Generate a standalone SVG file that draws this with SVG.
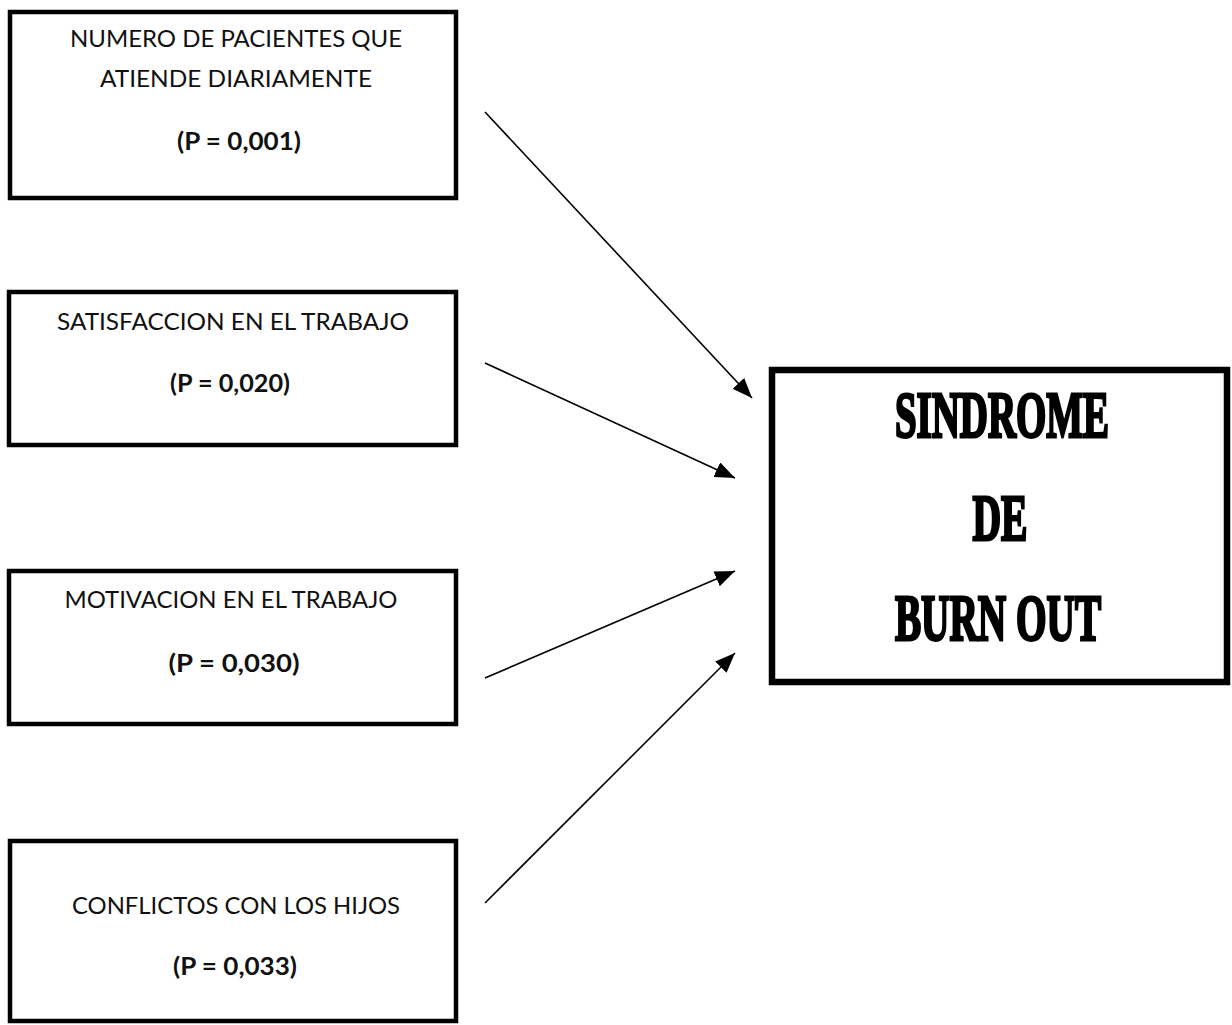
<svg xmlns="http://www.w3.org/2000/svg" width="1232" height="1025" viewBox="0 0 1232 1025">
  <style>
    .box { fill: #fff; stroke: #000; stroke-width: 4.5; }
    .main { fill: #fff; stroke: #000; stroke-width: 6.5; }
    .lbl { font-family: Lato, "Open Sans", "Liberation Sans", sans-serif; font-size: 24px; fill: #111; text-anchor: middle; }
    .p { font-weight: bold; }
    .big { font-family: "Liberation Serif", "DejaVu Serif", serif; font-weight: bold; font-size: 66px; fill: #000; stroke: #000; stroke-width: 3; text-anchor: middle; }
    .edge { stroke: #000; stroke-width: 1.6; fill: none; marker-end: url(#arrow); }
  </style>
  <defs>
    <marker id="arrow" viewBox="0 0 10 10" refX="10" refY="5" markerWidth="20" markerHeight="16" markerUnits="userSpaceOnUse" orient="auto" preserveAspectRatio="none">
      <path d="M0,0 L10,5 L0,10 z" fill="#000"/>
    </marker>
  </defs>

  <g id="pacientes">
    <rect class="box" x="10" y="12" width="446" height="186"/>
    <text class="lbl" x="236" y="47" textLength="332" lengthAdjust="spacingAndGlyphs">NUMERO DE PACIENTES QUE</text>
    <text class="lbl" x="236" y="87" textLength="272" lengthAdjust="spacingAndGlyphs">ATIENDE DIARIAMENTE</text>
    <text class="lbl p" x="239" y="150" textLength="124" lengthAdjust="spacingAndGlyphs">(P = 0,001)</text>
  </g>

  <g id="satisfaccion">
    <rect class="box" x="9" y="292" width="447" height="153"/>
    <text class="lbl" x="233" y="330" textLength="352" lengthAdjust="spacingAndGlyphs">SATISFACCION  EN EL TRABAJO</text>
    <text class="lbl p" x="230" y="392" textLength="120" lengthAdjust="spacingAndGlyphs">(P = 0,020)</text>
  </g>

  <g id="motivacion">
    <rect class="box" x="9" y="571" width="447" height="153"/>
    <text class="lbl" x="231" y="608" textLength="333" lengthAdjust="spacingAndGlyphs">MOTIVACION EN EL TRABAJO</text>
    <text class="lbl p" x="234" y="672" textLength="131" lengthAdjust="spacingAndGlyphs">(P = 0,030)</text>
  </g>

  <g id="conflictos">
    <rect class="box" x="10" y="841" width="446" height="180"/>
    <text class="lbl" x="236" y="914" textLength="328" lengthAdjust="spacingAndGlyphs">CONFLICTOS CON LOS HIJOS</text>
    <text class="lbl p" x="235" y="975" textLength="124" lengthAdjust="spacingAndGlyphs">(P = 0,033)</text>
  </g>

  <g id="burnout">
    <rect class="main" x="772" y="370" width="455" height="312"/>
    <!-- condensed heavy title: horizontal squeeze of a bold serif -->
    <text class="big" transform="translate(1002 437) scale(0.59 1)">SINDROME</text>
    <text class="big" transform="translate(1000 540) scale(0.6 1)">DE</text>
    <text class="big" transform="translate(998 640) scale(0.595 1)">BURN OUT</text>
  </g>

  <g id="connectors">
    <line class="edge" x1="485" y1="112" x2="752" y2="398"/>
    <line class="edge" x1="485" y1="363" x2="735" y2="478"/>
    <line class="edge" x1="485" y1="678" x2="735" y2="571"/>
    <line class="edge" x1="485" y1="903" x2="735" y2="653"/>
  </g>
</svg>
